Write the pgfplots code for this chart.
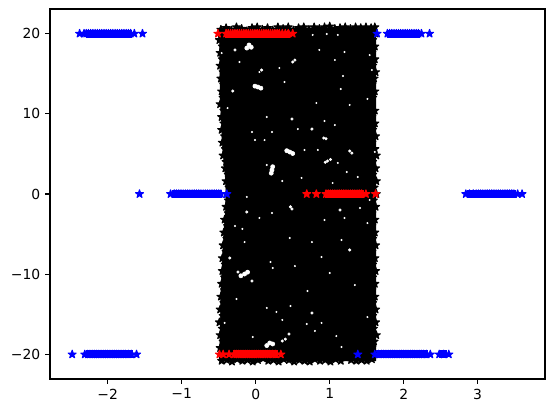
\documentclass[border=0pt]{standalone}
\usepackage{fontspec}
\setmainfont{DejaVu Sans}
\usepackage{pgfplots}
\pgfplotsset{compat=1.18}
\pgfdeclareplotmark{mstar}{%
  \pgfpathmoveto{\pgfpointpolar{90}{\pgfplotmarksize}}%
  \pgfpathlineto{\pgfpointpolar{126}{0.382\pgfplotmarksize}}%
  \pgfpathlineto{\pgfpointpolar{162}{\pgfplotmarksize}}%
  \pgfpathlineto{\pgfpointpolar{198}{0.382\pgfplotmarksize}}%
  \pgfpathlineto{\pgfpointpolar{234}{\pgfplotmarksize}}%
  \pgfpathlineto{\pgfpointpolar{270}{0.382\pgfplotmarksize}}%
  \pgfpathlineto{\pgfpointpolar{306}{\pgfplotmarksize}}%
  \pgfpathlineto{\pgfpointpolar{342}{0.382\pgfplotmarksize}}%
  \pgfpathlineto{\pgfpointpolar{18}{\pgfplotmarksize}}%
  \pgfpathlineto{\pgfpointpolar{54}{0.382\pgfplotmarksize}}%
  \pgfpathclose
  \pgfusepathqfillstroke
}
\pgfplotsset{
  stars/.style={only marks, mark=mstar, mark size=3pt, color=#1,
    mark options={fill=#1, draw=#1, line width=0.8pt, line join=round}},
  specks/.style={only marks, mark=*, mark size=#1, color=white,
    mark options={fill=white, draw=none}},
  band/.style={no marks, color=#1, line width=5.8pt, forget plot},
}
\begin{document}
\begin{tikzpicture}
\path[use as bounding box] (-36pt,-24.48pt) rectangle (363.6pt,272.88pt);
\begin{axis}[
  at={(0pt,0pt)}, anchor=south west,
  scale only axis, width=356.4pt, height=266.4pt,
  xmin=-2.78, xmax=3.91, ymin=-23.07, ymax=23.07,
  xtick={-2,-1,0,1,2,3}, xticklabels={−2,−1,0,1,2,3},
  ytick={-20,-10,0,10,20}, yticklabels={−20,−10,0,10,20},
  tick align=outside, tick pos=lower,
  major tick length=3.5pt,
  every tick/.style={black, line width=0.8pt},
  axis line style={line width=0.8pt},
  tick label style={font=\fontsize{10}{12}\selectfont},
]
% solid body of the black cloud
\addplot[black, fill=black, forget plot] coordinates {
  (-0.49,20.7) (-0.48,12) (-0.45,6) (-0.41,2) (-0.40,0) (-0.41,-2) (-0.44,-6) (-0.47,-12) (-0.49,-20.8)
  (1.625,-20.8) (1.625,20.7) (-0.49,20.7)};
% jagged rim of the black cloud
\addplot[stars=black] coordinates {
  (-0.47,20.5) (-0.40,20.7) (-0.33,20.4) (-0.26,20.8) (-0.19,20.6) (-0.12,20.3) (-0.05,20.7)
  (0.02,20.8) (0.09,20.5) (0.16,20.7) (0.23,20.4) (0.30,20.8) (0.37,20.6) (0.44,20.8)
  (0.51,20.4) (0.58,20.7) (0.65,20.8) (0.72,20.5) (0.79,20.8) (0.86,20.6) (0.93,20.8)
  (1.00,20.9) (1.07,20.6) (1.14,20.7) (1.21,20.8) (1.28,20.6) (1.35,20.8) (1.42,20.7)
  (1.49,20.8) (1.56,20.7) (1.61,20.8)
  (-0.46,-20.8) (-0.39,-20.7) (-0.32,-20.9) (-0.25,-20.6) (-0.18,-20.8) (-0.11,-20.7) (-0.04,-20.9)
  (0.03,-20.7) (0.10,-20.5) (0.17,-20.8) (0.24,-20.7) (0.31,-20.9) (0.38,-20.6) (0.45,-20.7)
  (0.52,-20.9) (0.59,-20.7) (0.66,-20.8) (0.73,-20.9) (0.80,-20.6) (0.87,-20.8) (0.94,-20.7)
  (1.01,-20.9) (1.08,-20.6) (1.15,-20.8) (1.22,-20.4) (1.29,-20.7) (1.36,-20.8) (1.43,-20.7)
  (1.50,-20.8) (1.57,-20.6)
  (-0.47,20.0) (-0.49,19.2) (-0.45,18.4) (-0.48,17.6) (-0.45,16.8) (-0.48,16.0) (-0.44,15.2)
  (-0.47,14.4) (-0.43,13.6) (-0.46,12.8) (-0.44,12.0) (-0.48,11.2) (-0.43,10.4) (-0.46,9.6)
  (-0.43,8.8) (-0.46,8.0) (-0.42,7.2) (-0.45,6.4) (-0.41,5.6) (-0.44,4.8) (-0.40,4.0)
  (-0.41,3.2) (-0.37,2.4) (-0.40,1.6) (-0.36,0.8) (-0.39,0.0) (-0.37,-0.8) (-0.40,-1.6)
  (-0.37,-2.4) (-0.42,-3.2) (-0.38,-4.0) (-0.43,-4.8) (-0.39,-5.6) (-0.44,-6.4) (-0.40,-7.2)
  (-0.45,-8.0) (-0.41,-8.8) (-0.45,-9.6) (-0.42,-10.4) (-0.46,-11.2) (-0.42,-12.0) (-0.47,-12.8)
  (-0.43,-13.6) (-0.48,-14.4) (-0.44,-15.2) (-0.49,-16.0) (-0.45,-16.8) (-0.48,-17.6)
  (-0.44,-18.4) (-0.48,-19.2) (-0.45,-20.0)
  (1.62,20.0) (1.58,19.2) (1.61,18.4) (1.57,17.6) (1.61,16.8) (1.58,16.0) (1.62,15.2)
  (1.60,14.4) (1.57,13.6) (1.61,12.8) (1.58,12.0) (1.56,11.2) (1.61,10.4) (1.57,9.6)
  (1.61,8.8) (1.58,8.0) (1.62,7.2) (1.57,6.4) (1.61,5.6) (1.63,4.8) (1.58,4.0)
  (1.62,3.2) (1.58,2.4) (1.63,1.6) (1.60,0.8) (1.63,0.0) (1.59,-0.8) (1.62,-1.6)
  (1.57,-2.4) (1.61,-3.2) (1.57,-4.0) (1.61,-4.8) (1.58,-5.6) (1.62,-6.4) (1.57,-7.2)
  (1.61,-8.0) (1.58,-8.8) (1.62,-9.6) (1.58,-10.4) (1.61,-11.2) (1.57,-12.0) (1.61,-12.8)
  (1.58,-13.6) (1.62,-14.4) (1.58,-15.2) (1.62,-16.0) (1.59,-16.8) (1.63,-17.6)
  (1.60,-18.4) (1.57,-19.2) (1.61,-20.0)};
% gaps in the cloud
\addplot[specks=1.5pt] coordinates {
  (0.03,13.34) (-0.01,13.45) (0.07,13.2) (0.22,2.99) (0.21,2.6) (0.23,3.4) (0.46,5.24) (0.42,5.4) (0.50,5.05)
  (-0.09,18.58) (-0.12,18.2) (-0.06,18.3) (0.19,-18.58) (0.23,-18.7) (0.15,-18.9) (-0.15,-9.98) (-0.20,-10.2) (-0.11,-9.75)};
\addplot[specks=0.9pt] coordinates {
  (0.49,9.35) (0.92,6.98) (0.95,6.9) (0.97,4.11) (1.01,4.3) (0.94,3.95) (1.27,5.36) (1.30,5.1) (-0.31,12.84)
  (0.76,8.1) (1.14,-2.0) (0.36,-18.33) (0.40,-18.1) (0.45,-17.46) (0.49,-1.87) (0.47,-1.6) (-0.12,-2.24)
  (1.27,-6.98) (-0.35,-7.98) (-0.24,-9.73) (0.76,-14.84) (-0.28,17.96) (0.08,15.46) (0.5,16.46) (0.53,16.7)
  (-0.05,-10.85)};
\addplot[specks=0.5pt] coordinates {
  (0.15,9.6) (-0.01,6.73) (0.12,6.73) (0.22,7.73) (0.82,11.35) (1.15,13.09) (1.27,11.1)
  (1.51,11.85) (-0.38,10.72) (1.07,8.6) (1.38,2.12) (0.62,2.0) (1.23,2.74) (1.61,5.24)
  (1.18,14.71) (0.39,13.97) (0.05,15.21) (0.66,5.49) (0.84,5.49) (0.15,3.62) (1.11,3.87)
  (0.57,8.1) (0.93,9.1) (-0.05,7.73) (0.22,-2.37) (0.93,-3.24) (0.05,-2.99) (1.41,-1.75)
  (1.51,-3.62) (1.2,-2.99) (-0.28,-3.99) (-0.18,-4.36) (0.76,-5.99) (0.2,-8.48) (0.23,-9.23)
  (0.89,-7.86) (1.0,-9.85) (0.53,-8.98) (1.34,-11.35) (0.15,-14.21) (0.47,-13.97) (0.36,-15.71)
  (0.89,-16.08) (-0.42,-16.08) (-0.26,-13.09) (1.51,-15.34) (0.28,-14.71) (0.7,-12.09)
  (-0.15,-5.99) (0.46,-5.49) (1.16,-5.74) (-0.46,17.58) (0.32,15.71) (-0.22,16.46) (1.54,17.33)
  (0.77,19.83) (0.96,19.95) (1.11,19.83) (1.2,17.71) (1.07,16.71) (1.57,15.46) (0.86,17.96)
  (0.36,1.62) (-0.12,-0.37) (1.04,1.37) (1.54,-0.75) (-0.04,-17.83) (1.09,-17.71) (0.8,-17.08)
  (1.16,-19.08) (0.69,-16.21)};
% solid runs where the blue points overlap
\addplot[band=blue] coordinates {(-2.30,20) (-1.67,20)};
\addplot[band=blue] coordinates {(1.78,20) (2.22,20)};
\addplot[band=blue] coordinates {(-1.13,0) (-0.46,0)};
\addplot[band=blue] coordinates {(2.86,0) (3.52,0)};
\addplot[band=blue] coordinates {(-2.30,-20) (-1.66,-20)};
\addplot[band=blue] coordinates {(1.63,-20) (2.33,-20)};
\addplot[band=blue] coordinates {(2.48,-20) (2.58,-20)};
% blue points
\addplot[stars=blue] coordinates {
  (-2.38,20) (-2.32,20) (-2.29,20) (-2.26,20) (-2.23,20) (-2.20,20) (-2.17,20) (-2.14,20)
  (-2.11,20) (-2.08,20) (-2.05,20) (-2.02,20) (-1.99,20) (-1.96,20) (-1.93,20) (-1.90,20)
  (-1.87,20) (-1.84,20) (-1.81,20) (-1.78,20) (-1.75,20) (-1.72,20) (-1.69,20) (-1.64,20) (-1.53,20)
  (1.64,20) (1.78,20) (1.81,20) (1.84,20) (1.87,20) (1.90,20) (1.93,20) (1.96,20) (1.99,20)
  (2.02,20) (2.05,20) (2.08,20) (2.11,20) (2.14,20) (2.17,20) (2.20,20) (2.24,20) (2.35,20)
  (-1.57,0) (-1.15,0) (-1.10,0) (-1.07,0) (-1.04,0) (-1.01,0) (-0.98,0) (-0.95,0) (-0.92,0)
  (-0.89,0) (-0.86,0) (-0.83,0) (-0.80,0) (-0.77,0) (-0.74,0) (-0.71,0) (-0.68,0) (-0.65,0)
  (-0.62,0) (-0.59,0) (-0.56,0) (-0.53,0) (-0.50,0) (-0.47,0) (-0.39,0)
  (2.84,0) (2.89,0) (2.94,0) (2.98,0) (3.01,0) (3.04,0) (3.07,0) (3.10,0) (3.13,0) (3.16,0)
  (3.19,0) (3.22,0) (3.25,0) (3.28,0) (3.31,0) (3.34,0) (3.37,0) (3.40,0) (3.43,0) (3.46,0)
  (3.49,0) (3.54,0) (3.60,0)
  (-2.48,-20) (-2.31,-20) (-2.27,-20) (-2.24,-20) (-2.21,-20) (-2.18,-20) (-2.15,-20) (-2.12,-20)
  (-2.09,-20) (-2.06,-20) (-2.03,-20) (-2.00,-20) (-1.97,-20) (-1.94,-20) (-1.91,-20) (-1.88,-20)
  (-1.85,-20) (-1.82,-20) (-1.79,-20) (-1.76,-20) (-1.72,-20) (-1.68,-20) (-1.61,-20)
  (1.38,-20) (1.61,-20) (1.66,-20) (1.70,-20) (1.73,-20) (1.76,-20) (1.79,-20) (1.82,-20)
  (1.85,-20) (1.88,-20) (1.91,-20) (1.94,-20) (1.97,-20) (2.00,-20) (2.03,-20) (2.06,-20)
  (2.09,-20) (2.12,-20) (2.15,-20) (2.18,-20) (2.21,-20) (2.24,-20) (2.27,-20) (2.31,-20)
  (2.36,-20) (2.48,-20) (2.54,-20) (2.61,-20)};
% solid runs where the red points overlap
\addplot[band=red] coordinates {(-0.42,20) (0.46,20)};
\addplot[band=red] coordinates {(0.93,0) (1.47,0)};
\addplot[band=red] coordinates {(-0.30,-20) (0.30,-20)};
% red points
\addplot[stars=red] coordinates {
  (-0.51,20) (-0.40,20) (-0.37,20) (-0.34,20) (-0.31,20) (-0.28,20) (-0.25,20) (-0.22,20)
  (-0.19,20) (-0.16,20) (-0.13,20) (-0.10,20) (-0.07,20) (-0.04,20) (-0.01,20) (0.02,20)
  (0.05,20) (0.08,20) (0.11,20) (0.14,20) (0.17,20) (0.20,20) (0.23,20) (0.26,20) (0.29,20)
  (0.32,20) (0.36,20) (0.40,20) (0.44,20) (0.50,20)
  (0.69,0) (0.82,0) (0.95,0) (0.98,0) (1.01,0) (1.04,0) (1.07,0) (1.10,0) (1.13,0) (1.16,0)
  (1.19,0) (1.22,0) (1.25,0) (1.28,0) (1.31,0) (1.34,0) (1.37,0) (1.40,0) (1.43,0) (1.49,0) (1.62,0)
  (-0.49,-20) (-0.44,-20) (-0.36,-20) (-0.29,-20) (-0.26,-20) (-0.23,-20) (-0.20,-20) (-0.17,-20)
  (-0.14,-20) (-0.11,-20) (-0.08,-20) (-0.05,-20) (-0.02,-20) (0.01,-20) (0.04,-20) (0.07,-20)
  (0.10,-20) (0.13,-20) (0.16,-20) (0.19,-20) (0.23,-20) (0.27,-20) (0.34,-20)};
\end{axis}
\end{tikzpicture}
\end{document}
